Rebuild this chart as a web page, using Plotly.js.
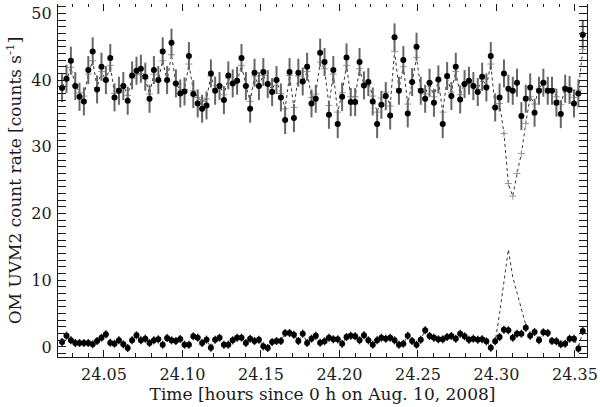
<!DOCTYPE html>
<html>
<head>
<meta charset="utf-8">
<script src="https://cdn.plot.ly/plotly-3.0.1.min.js"></script>
<style>html,body{margin:0;padding:0;background:#fff}#chart{width:600px;height:407px}</style>
</head>
<body>
<div id="chart"></div>
<script>
// Time bins [hours since 0 h on Aug. 10, 2008]
const time = [
24.0233,24.0261,24.0289,24.0317,24.0344,24.0372,24.0400,24.0428,24.0456,24.0484,
24.0512,24.0540,24.0567,24.0595,24.0623,24.0651,24.0679,24.0707,24.0735,24.0763,
24.0790,24.0818,24.0846,24.0874,24.0902,24.0930,24.0958,24.0986,24.1013,24.1041,
24.1069,24.1097,24.1125,24.1153,24.1181,24.1208,24.1236,24.1264,24.1292,24.1320,
24.1348,24.1376,24.1404,24.1431,24.1459,24.1487,24.1515,24.1543,24.1571,24.1599,
24.1627,24.1654,24.1682,24.1710,24.1738,24.1766,24.1794,24.1822,24.1849,24.1877,
24.1905,24.1933,24.1961,24.1989,24.2017,24.2045,24.2072,24.2100,24.2128,24.2156,
24.2184,24.2212,24.2240,24.2267,24.2295,24.2323,24.2351,24.2379,24.2407,24.2435,
24.2463,24.2491,24.2518,24.2546,24.2574,24.2602,24.2630,24.2658,24.2686,24.2713,
24.2741,24.2769,24.2797,24.2825,24.2853,24.2881,24.2909,24.2936,24.2964,24.2992,
24.3020,24.3048,24.3076,24.3104,24.3131,24.3159,24.3187,24.3215,24.3243,24.3271,
24.3299,24.3327,24.3354,24.3382,24.3410,24.3438,24.3466,24.3494,24.3522,24.3550
];
// Upper source, count rate (filled circles)
const upperRate = [
38.8,40.2,42.9,39.1,37.5,36.8,41.5,44.3,38.6,42.0,
40.0,43.3,37.4,38.4,39.1,36.9,40.7,41.4,41.7,40.5,
37.2,41.5,40.0,44.3,40.0,45.6,39.5,38.0,38.3,43.6,
37.9,36.5,35.7,36.2,41.0,38.4,39.1,37.0,40.7,39.5,
39.9,43.3,39.1,35.7,41.1,39.1,41.2,39.4,38.2,40.0,
37.4,34.0,41.2,34.3,41.1,39.8,42.0,36.5,37.2,44.1,
42.7,34.8,41.5,33.4,37.5,43.4,36.7,36.7,42.7,39.2,
39.7,36.8,33.4,36.3,37.6,34.7,46.4,38.4,43.0,35.0,
39.7,45.0,38.4,37.2,39.6,36.6,40.1,33.4,40.6,37.6,
42.0,37.1,39.4,39.9,39.1,38.2,40.5,38.9,43.6,35.9,
37.4,41.0,38.7,38.4,39.6,34.6,37.2,38.9,35.1,38.4,
39.6,38.4,38.4,36.6,34.9,38.7,38.5,36.5,38.0,46.8
];
// Upper source, second extraction (dotted curve)
const upperAlt = [
39.0,40.0,41.9,39.2,38.1,37.6,40.9,42.9,38.9,41.3,
39.9,42.2,38.0,38.7,39.2,37.7,40.3,40.8,41.0,40.2,
37.9,40.9,39.9,42.9,39.9,43.8,39.5,38.5,38.6,42.4,
38.4,37.4,36.8,37.2,40.6,38.7,39.2,37.8,40.3,39.5,
39.8,42.2,39.2,36.8,40.6,39.2,40.7,39.4,38.6,39.9,
38.0,35.7,40.7,35.9,40.6,39.7,41.3,37.4,37.9,42.7,
41.7,36.2,40.9,35.2,38.1,42.2,37.5,37.5,41.7,39.3,
39.6,37.6,35.2,37.3,38.2,36.1,44.3,38.7,42.0,36.4,
39.6,43.4,38.7,37.9,39.6,37.5,39.9,35.2,40.3,38.2,
41.3,37.8,39.4,39.8,39.2,38.6,40.2,39.1,42.4,35.8,
36.5,32.0,24.5,22.6,26.0,29.0,33.5,37.5,36.4,38.7,
39.6,38.7,38.7,37.5,36.3,38.9,38.8,37.4,38.5,44.6
];
// Lower source, count rate (filled circles)
const lowerRate = [
0.75,1.7,1.0,0.6,0.6,0.6,0.6,0.4,0.9,1.4,
1.9,0.65,0.5,1.0,0.4,-0.15,1.0,1.75,1.0,1.25,
0.6,1.0,1.15,0.35,1.35,1.0,0.9,1.2,0.35,0.35,
1.6,1.4,0.6,1.1,-0.1,1.1,1.4,0.35,0.35,1.0,
1.4,1.4,0.6,1.25,0.9,1.1,0.1,-0.15,0.75,0.9,
0.9,2.1,2.1,1.85,0.9,2.0,0.6,1.25,1.7,0.65,
0.85,1.4,1.15,1.15,0.5,1.5,1.7,1.6,1.0,1.75,
1.0,0.35,1.0,1.4,1.25,1.4,1.0,0.35,0.5,1.7,
0.9,0.35,1.1,2.5,1.65,1.4,1.15,1.15,1.5,1.65,
1.25,2.0,1.6,1.1,1.25,1.1,1.15,0.85,-0.1,0.85,
1.5,2.6,2.5,1.4,2.0,2.0,2.9,1.7,2.25,1.0,
2.2,2.1,0.9,0.85,0.4,0.5,1.25,1.25,-0.25,2.4
];
// Lower source, second extraction (dotted curve)
const lowerAlt = [
0.75,1.7,1.0,0.6,0.6,0.6,0.6,0.4,0.9,1.4,
1.9,0.65,0.5,1.0,0.4,-0.15,1.0,1.75,1.0,1.25,
0.6,1.0,1.15,0.35,1.35,1.0,0.9,1.2,0.35,0.35,
1.6,1.4,0.6,1.1,-0.1,1.1,1.4,0.35,0.35,1.0,
1.4,1.4,0.6,1.25,0.9,1.1,0.1,-0.15,0.75,0.9,
0.9,2.1,2.1,1.85,0.9,2.0,0.6,1.25,1.7,0.65,
0.85,1.4,1.15,1.15,0.5,1.5,1.7,1.6,1.0,1.75,
1.0,0.35,1.0,1.4,1.25,1.4,1.0,0.35,0.5,1.7,
0.9,0.35,1.1,2.5,1.65,1.4,1.15,1.15,1.5,1.65,
1.25,2.0,1.6,1.1,1.25,1.1,1.15,0.85,-0.1,0.8,
5.0,9.8,14.6,10.5,8.0,5.7,3.3,2.0,2.25,1.0,
2.2,2.1,0.9,0.85,0.4,0.5,1.25,1.25,-0.25,2.4
];
const upperErr = 2.1;
const lowerErr = 0.6;
const xTicks = [24.05,24.10,24.15,24.20,24.25,24.30,24.35];
const xTickText = ['24.05','24.10','24.15','24.20','24.25','24.30','24.35'];
const yTicks = [0,10,20,30,40,50];

const FONT = 'DejaVu Serif, serif';
const INK = '#1a1a1a';

const traces = [
  {x: time, y: upperAlt, type:'scatter', mode:'lines+markers',
   line:{color:'#333', width:1, dash:'dot'},
   marker:{symbol:'cross-thin', size:5, line:{color:'#999', width:1}},
   hoverinfo:'skip', showlegend:false},
  {x: time, y: lowerAlt, type:'scatter', mode:'lines',
   line:{color:'#333', width:1, dash:'dot'},
   hoverinfo:'skip', showlegend:false},
  {x: time, y: upperRate, type:'scatter', mode:'markers',
   marker:{color:'#000', size:6},
   error_y:{type:'constant', value:upperErr, color:'#666', thickness:2, width:0},
   showlegend:false},
  {x: time, y: lowerRate, type:'scatter', mode:'markers',
   marker:{color:'#000', size:6},
   error_y:{type:'constant', value:lowerErr, color:'#222', thickness:1.5, width:0},
   showlegend:false},
  {x: [], y: [], xaxis:'x2', type:'scatter', showlegend:false}
];

const xr = [24.0207, 24.3577];
const layout = {
  width:600, height:407,
  margin:{l:58, r:13, t:4, b:50},
  paper_bgcolor:'#fff', plot_bgcolor:'#fff',
  font:{family:FONT, color:INK, size:16},
  xaxis:{range:xr, tickvals:xTicks, ticktext:xTickText,
    ticks:'inside', ticklen:7, tickwidth:1, tickcolor:INK,
    showline:true, linecolor:INK, linewidth:1.2, mirror:false,
    showgrid:false, zeroline:false, ticklabelstandoff:3,
    minor:{dtick:0.01, tick0:24.0, ticks:'inside', ticklen:4, tickcolor:INK, showgrid:false},
    tickfont:{size:16, family:FONT, color:INK},
    title:{text:'Time [hours since 0 h on Aug. 10, 2008]', font:{size:17, family:FONT, color:INK}, standoff:4}},
  xaxis2:{range:xr, overlaying:'x', side:'top', anchor:'y',
    tickvals:xTicks, showticklabels:false,
    ticks:'inside', ticklen:7, tickwidth:1, tickcolor:INK,
    showline:false, showgrid:false, zeroline:false,
    minor:{dtick:0.01, tick0:24.0, ticks:'inside', ticklen:3, tickcolor:INK, showgrid:false}},
  yaxis:{range:[-1.5, 51.4], tickvals:yTicks,
    ticks:'inside', ticklen:8, tickwidth:1, tickcolor:INK,
    showline:true, linecolor:INK, linewidth:1.2, mirror:'allticks',
    showgrid:false, zeroline:false, ticklabelstandoff:2,
    minor:{dtick:1, tick0:0, ticks:'inside', ticklen:4, tickcolor:INK, showgrid:false},
    tickfont:{size:16, family:FONT, color:INK},
    title:{text:'OM UVM2 count rate [counts s<sup>-1</sup>]', font:{size:17, family:FONT, color:INK}, standoff:5}}
};

Plotly.newPlot('chart', traces, layout, {displayModeBar:false, staticPlot:true});
</script>
</body>
</html>
